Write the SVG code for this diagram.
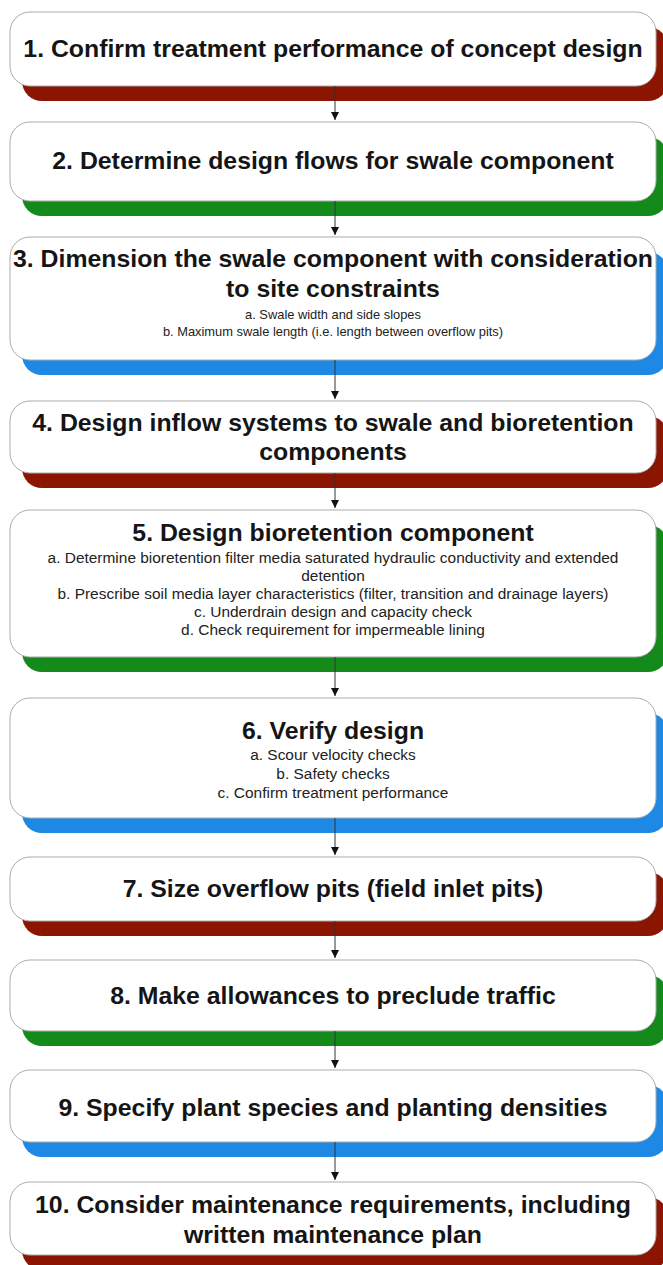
<svg xmlns="http://www.w3.org/2000/svg" width="663" height="1265" viewBox="0 0 663 1265">
<style>
.box{fill:#fff;stroke:#ababab;stroke-width:1}
.red{fill:#8b1500}
.green{fill:#138a19}
.blue{fill:#1e88e5}
.t{font-family:"Liberation Sans",Arial,sans-serif;font-weight:bold;font-size:23px;fill:#151515;text-anchor:middle;transform-origin:333px 0px;transform:scaleX(1.08)}
.s{font-family:"Liberation Sans",Arial,sans-serif;font-size:15px;fill:#222;text-anchor:middle;transform-origin:333px 0px;transform:scaleX(1.03)}
.s3{font-size:12.5px}
.conn line{stroke:#333;stroke-width:1}
</style>
<defs>
<marker id="ah" markerUnits="userSpaceOnUse" markerWidth="8" markerHeight="9" refX="8" refY="4" orient="auto">
<path d="M0,0 L8,4 L0,8 z" fill="#111"/>
</marker>
</defs>
<rect width="663" height="1265" fill="#fff"/>
<g id="n1">
<rect class="red" x="22" y="27" width="646" height="74" rx="20"/>
<rect class="box" x="10" y="12" width="646" height="74" rx="20"/>
<text class="t" x="333" y="57">1. Confirm treatment performance of concept design</text>
</g>
<g id="n2">
<rect class="green" x="22" y="137" width="646" height="79" rx="20"/>
<rect class="box" x="10" y="122" width="646" height="79" rx="20"/>
<text class="t" x="333" y="169">2. Determine design flows for swale component</text>
</g>
<g id="n3">
<rect class="blue" x="22" y="252" width="646" height="123" rx="20"/>
<rect class="box" x="10" y="237" width="646" height="123" rx="20"/>
<text class="t" x="333" y="267">3. Dimension the swale component with consideration</text>
<text class="t" x="333" y="297">to site constraints</text>
<text class="s s3" x="333" y="319">a. Swale width and side slopes</text>
<text class="s s3" x="333" y="336">b. Maximum swale length (i.e. length between overflow pits)</text>
</g>
<g id="n4">
<rect class="red" x="22" y="416" width="646" height="72" rx="20"/>
<rect class="box" x="10" y="401" width="646" height="72" rx="20"/>
<text class="t" x="333" y="431">4. Design inflow systems to swale and bioretention</text>
<text class="t" x="333" y="460">components</text>
</g>
<g id="n5">
<rect class="green" x="22" y="525" width="646" height="147" rx="20"/>
<rect class="box" x="10" y="510" width="646" height="147" rx="20"/>
<text class="t" x="333" y="541">5. Design bioretention component</text>
<text class="s" x="333" y="563">a. Determine bioretention filter media saturated hydraulic conductivity and extended</text>
<text class="s" x="333" y="581">detention</text>
<text class="s" x="333" y="599">b. Prescribe soil media layer characteristics (filter, transition and drainage layers)</text>
<text class="s" x="333" y="617">c. Underdrain design and capacity check</text>
<text class="s" x="333" y="635">d. Check requirement for impermeable lining</text>
</g>
<g id="n6">
<rect class="blue" x="22" y="713" width="646" height="120" rx="20"/>
<rect class="box" x="10" y="698" width="646" height="120" rx="20"/>
<text class="t" x="333" y="739">6. Verify design</text>
<text class="s" x="333" y="760">a. Scour velocity checks</text>
<text class="s" x="333" y="779">b. Safety checks</text>
<text class="s" x="333" y="798">c. Confirm treatment performance</text>
</g>
<g id="n7">
<rect class="red" x="22" y="872" width="646" height="64" rx="20"/>
<rect class="box" x="10" y="857" width="646" height="64" rx="20"/>
<text class="t" x="333" y="897">7. Size overflow pits (field inlet pits)</text>
</g>
<g id="n8">
<rect class="green" x="22" y="975" width="646" height="71" rx="20"/>
<rect class="box" x="10" y="960" width="646" height="71" rx="20"/>
<text class="t" x="333" y="1004">8. Make allowances to preclude traffic</text>
</g>
<g id="n9">
<rect class="blue" x="22" y="1085" width="646" height="72" rx="20"/>
<rect class="box" x="10" y="1070" width="646" height="72" rx="20"/>
<text class="t" x="333" y="1116">9. Specify plant species and planting densities</text>
</g>
<g id="n10">
<rect class="red" x="22" y="1197" width="646" height="73" rx="20"/>
<rect class="box" x="10" y="1182" width="646" height="73" rx="20"/>
<text class="t" x="333" y="1213">10. Consider maintenance requirements, including</text>
<text class="t" x="333" y="1243">written maintenance plan</text>
</g>
<g id="connectors" class="conn">
<line x1="335" y1="86" x2="335" y2="120" marker-end="url(#ah)"/>
<line x1="335" y1="201" x2="335" y2="235" marker-end="url(#ah)"/>
<line x1="335" y1="360" x2="335" y2="399" marker-end="url(#ah)"/>
<line x1="335" y1="473" x2="335" y2="508" marker-end="url(#ah)"/>
<line x1="335" y1="657" x2="335" y2="696" marker-end="url(#ah)"/>
<line x1="335" y1="818" x2="335" y2="855" marker-end="url(#ah)"/>
<line x1="335" y1="921" x2="335" y2="958" marker-end="url(#ah)"/>
<line x1="335" y1="1031" x2="335" y2="1068" marker-end="url(#ah)"/>
<line x1="335" y1="1142" x2="335" y2="1180" marker-end="url(#ah)"/>
</g>
</svg>
